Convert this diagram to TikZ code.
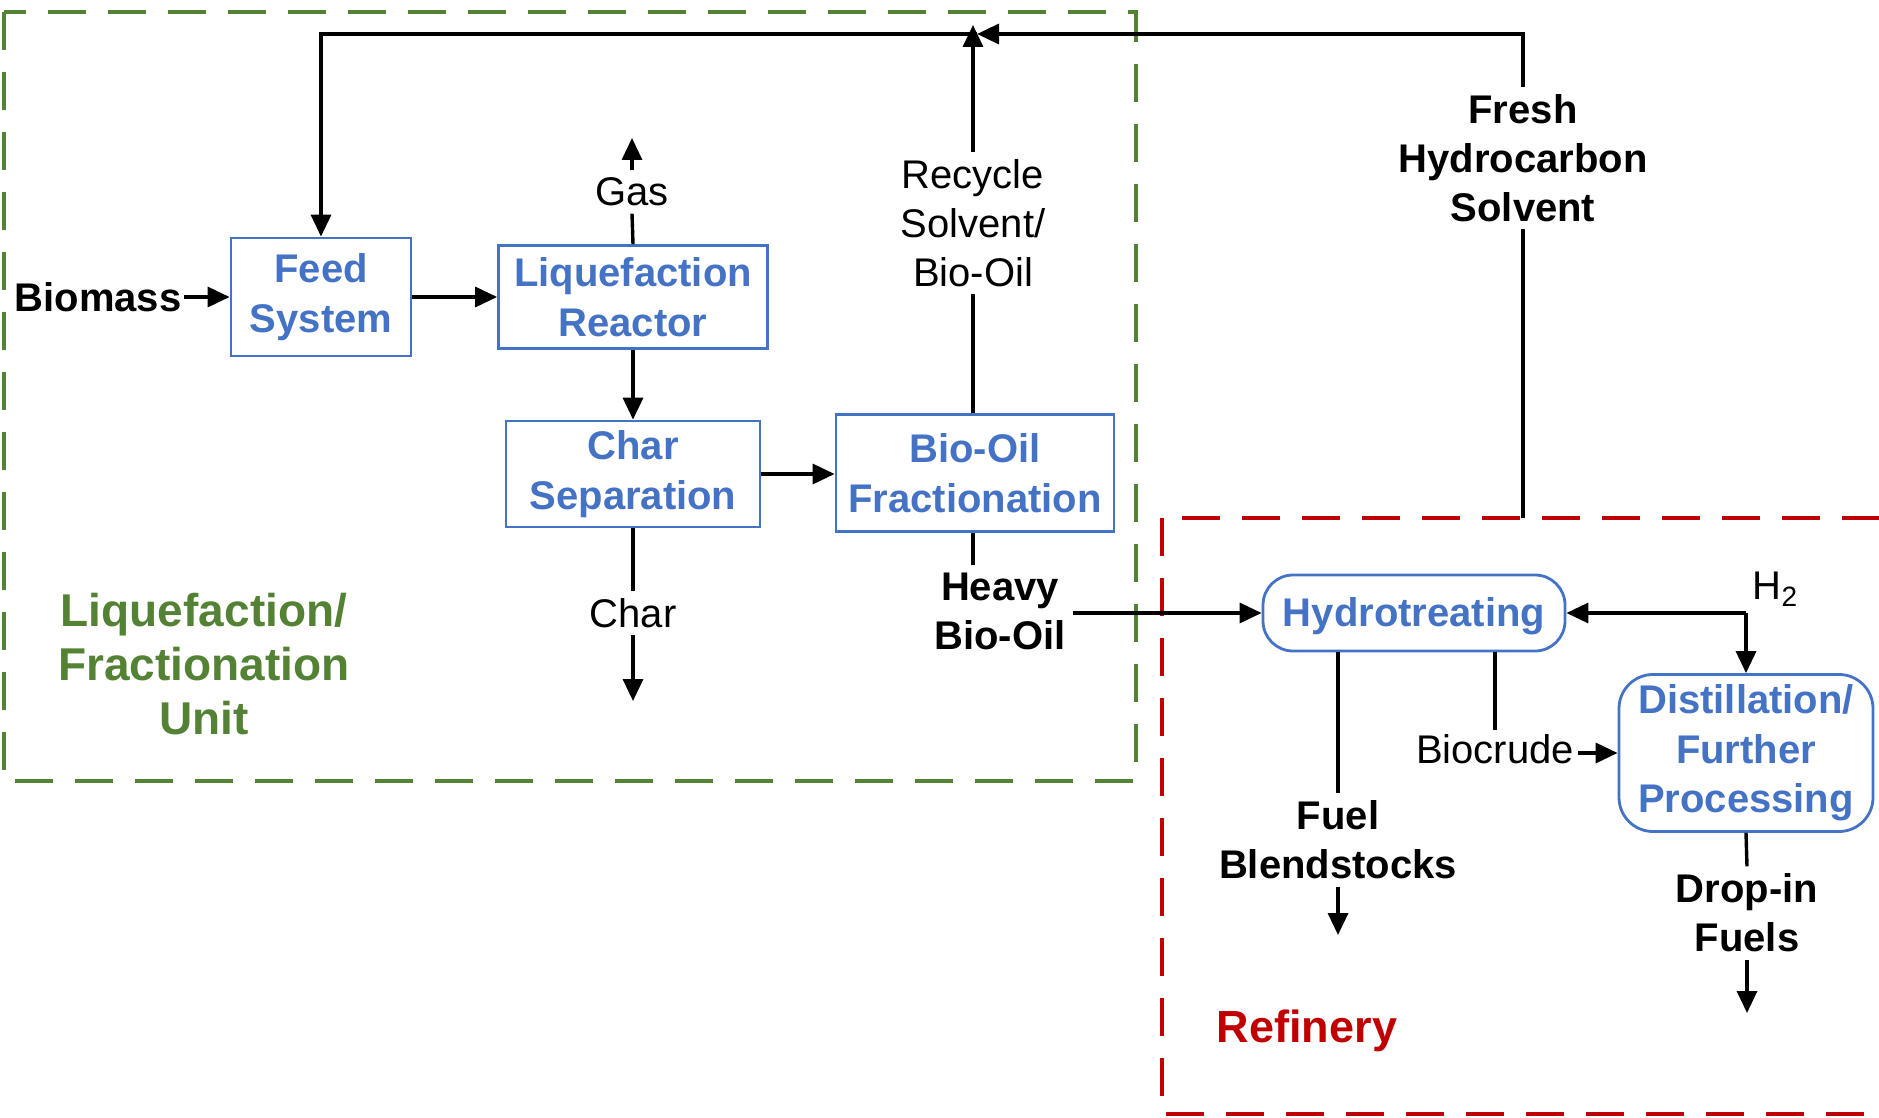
\documentclass[tikz,border=0pt]{standalone}
\usepackage{fontspec}
\setmainfont{Liberation Sans}
\usetikzlibrary{arrows.meta}
\definecolor{boxblue}{RGB}{68,114,196}
\definecolor{unitgreen}{RGB}{84,130,53}
\definecolor{refred}{RGB}{192,0,0}
\begin{document}
\begin{tikzpicture}[x=0.5pt,y=-0.5pt,
  every node/.style={font=\fontsize{20pt}{24.5pt}\selectfont},
  proc/.style={draw=boxblue, line width=1.4pt, text=boxblue, font=\fontsize{20pt}{24.75pt}\selectfont\bfseries, align=center, inner sep=0pt, execute at begin node={\rule{0pt}{18pt}}},
  lbl/.style={align=center, inner sep=3.5pt},
  blbl/.style={lbl, font=\fontsize{20pt}{24.5pt}\selectfont\bfseries},
  flow/.style={line width=1.7pt, draw=black},
  arr/.style={flow, -{Triangle[length=11pt,width=10pt]}},
  zone/.style={line width=2.3pt, dash pattern=on 19pt off 11pt},
]
\useasboundingbox (0,0) rectangle (1879,1118);

% zones
\draw[zone, draw=unitgreen] (4,12) rectangle (1136,781);
\draw[zone, draw=refred] (1162,518) rectangle (1915,1114);

% process boxes
\node[proc, minimum width=90pt, minimum height=59pt] (feed) at (321,297) {Feed\\System};
\node[proc, minimum width=134.5pt, minimum height=51.5pt] (reactor) at (633,297) {Liquefaction\\Reactor};
\node[proc, minimum width=127pt, minimum height=53pt] (charsep) at (633,474) {Char\\Separation};
\node[proc, minimum width=139pt, minimum height=58.5pt] (frac) at (975,473) {Bio-Oil\\Fractionation};
\node[proc, rounded corners=15pt, minimum width=151pt, minimum height=38pt] (hydro) at (1414,613) {Hydrotreating};
\node[proc, rounded corners=17pt, minimum width=127pt, minimum height=78.5pt] (dist) at (1746,753) {Distillation/\\Further\\Processing};

% labels
\node[blbl, inner sep=1pt] (biomass) at (98,297) {Biomass};
\node[lbl] (gas) at (632,192) {Gas};
\node[lbl] (char) at (633,613) {Char};
\node[lbl] (recycle) at (973,223) {Recycle\\Solvent/\\Bio-Oil};
\node[blbl] (fresh) at (1523,158) {Fresh\\Hydrocarbon\\Solvent};
\node[blbl] (heavy) at (1000,611) {Heavy\\Bio-Oil};
\node[lbl, inner sep=1pt] (h2) at (1775,589) {H\raisebox{-0.35ex}{\fontsize{14pt}{14pt}\selectfont 2}};
\node[lbl, inner sep=2pt] (biocrude) at (1495,749) {Biocrude};
\node[blbl] (fuel) at (1338,840) {Fuel\\Blendstocks};
\node[blbl] (dropin) at (1747,913) {Drop-in\\Fuels};
\node[align=center, text=unitgreen, font=\fontsize{23pt}{27pt}\selectfont\bfseries] (unit) at (204,664) {Liquefaction/\\Fractionation\\Unit};
\node[text=refred, font=\fontsize{22.5pt}{27pt}\selectfont\bfseries] (refinery) at (1307,1031) {Refinery};

% free ends
\coordinate (junc) at (977,34);
\coordinate (corner) at (1523,34);
\coordinate (redtop) at (1523,518);
\coordinate (rectip) at (973,25);
\coordinate (gastip) at (632,138);
\coordinate (chartip) at (633,701);
\coordinate (fueltip) at (1338,935);
\coordinate (droptip) at (1747,1013);

% connectors
\draw[arr] (biomass.east) -- (feed.west);
\draw[arr] (feed.east) -- (reactor.west);
\draw[arr] (reactor.south) -- (charsep.north);
\draw[arr] (charsep.east) -- (charsep.east -| frac.west);
\draw[flow] (reactor.north) -- (gas.south);
\draw[arr] (gas.north) -- (gastip);
\draw[flow] (charsep.south) -- (char.north);
\draw[arr] (char.south) -- (chartip);
\draw[flow] (rectip |- frac.north) -- (rectip |- recycle.south);
\draw[arr] (rectip |- recycle.north) -- (rectip);
\draw[arr] (junc) -| (feed.north);
\draw[flow] (redtop) -- (fresh.south);
\draw[arr] (fresh.north) -- (corner) -- (junc);
\draw[flow] (rectip |- frac.south) -- (rectip |- heavy.north);
\draw[arr] (heavy.east |- hydro.west) -- (hydro.west);
\coordinate (hj) at (hydro.east -| dist.north);
\draw[arr] (hj) -- (hydro.east);
\draw[arr] (hj) -- (dist.north);
\draw[flow] (fuel.north |- hydro.south) -- (fuel.north);
\draw[arr] (fuel.south) -- (fueltip);
\draw[flow] (biocrude.north |- hydro.south) -- (biocrude.north);
\draw[arr] (biocrude.east |- dist.west) -- (dist.west);
\draw[flow] (dist.south) -- (dropin.north);
\draw[arr] (dropin.south) -- (droptip);
\end{tikzpicture}
\end{document}
